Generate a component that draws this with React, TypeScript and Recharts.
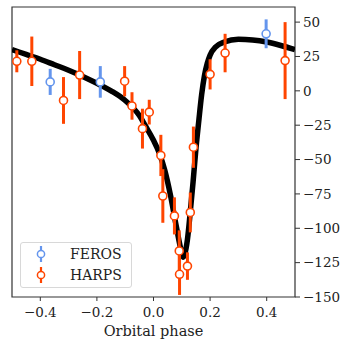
import { ComposedChart, Line, Scatter, ErrorBar, XAxis, YAxis, ReferenceArea } from "recharts";

// model RV curve (phase, km/s)
const modelPhase = [
  -0.5, -0.45, -0.4, -0.35, -0.3, -0.25, -0.2, -0.15, -0.1, -0.05, -0.03, 0.0, 0.02, 0.04, 0.06, 0.08,
  0.1, 0.105, 0.11, 0.12, 0.13, 0.14, 0.15, 0.16, 0.17, 0.18, 0.19, 0.2, 0.22, 0.25, 0.3, 0.35, 0.4,
  0.45, 0.5,
];
const modelRv = [
  30, 26.5, 23, 19, 15, 10.5, 5.5, 0, -7, -18, -25, -36, -45, -58, -76, -98, -118, -121, -119, -108,
  -88, -66, -42, -22, -3, 11, 20, 26, 32, 35.5, 37.5, 37, 35.5, 33, 30,
];

const ferosPhase = [-0.365, -0.188, 0.398];
const ferosRv = [6.5, 6.5, 41.5];
const ferosErr = [9.5, 11.5, 10.5];

const harpsPhase = [
  -0.483, -0.43, -0.318, -0.261, -0.102, -0.076, -0.039, -0.015, 0.026, 0.033, 0.074, 0.091, 0.092,
  0.12, 0.13, 0.141, 0.2, 0.253, 0.465,
];
const harpsRv = [
  21.5, 21.5, -7, 11.5, 7, -11, -27.5, -15.5, -47, -76.5, -91, -116.5, -133.5, -127.5, -88.5, -41, 12,
  27.5, 22,
];
const harpsErr = [8, 18, 17, 17.5, 11, 10, 14.5, 9, 15, 19.5, 13.5, 15, 15, 10, 14.5, 15, 11, 14, 28];

const xTicks = [-0.4, -0.2, 0.0, 0.2, 0.4];
const yTicks = [-150, -125, -100, -75, -50, -25, 0, 25, 50];

const model = modelPhase.map((phase, i) => ({ phase, v: modelRv[i] }));
const feros = ferosPhase.map((phase, i) => ({ phase, v: ferosRv[i], err: ferosErr[i] }));
const harps = harpsPhase.map((phase, i) => ({ phase, v: harpsRv[i], err: harpsErr[i] }));

const BLUE = "#6495ED";
const RED = "#FF4500";
const FONT = "DejaVu Serif, Liberation Serif, serif";

const minus = (s: string) => s.replace("-", "\u2212");

const dot = (color: string) => (props: any) =>
  <circle cx={props.cx} cy={props.cy} r={4} fill="#fff" stroke={color} strokeWidth={1.6} />;

const LegendMark = ({ color }: { color: string }) => (
  <svg width={12} height={18} style={{ display: "block" }}>
    <line x1={6} y1={1} x2={6} y2={17} stroke={color} strokeWidth={2.2} />
    <circle cx={6} cy={9} r={3.6} fill="#fff" stroke={color} strokeWidth={1.5} />
  </svg>
);

const App = () => {
  return (
    <div style={{ position: "absolute", left: 0, top: 0, width: 346, height: 341, background: "#fff", fontFamily: FONT }}>
      <ComposedChart width={346} height={341} margin={{ top: 7, right: 0, left: 12, bottom: 0 }} style={{ fontFamily: FONT }}>
        <XAxis
          dataKey="phase"
          type="number"
          domain={[-0.5, 0.5]}
          ticks={xTicks}
          allowDataOverflow
          tickFormatter={(v: number) => minus(v.toFixed(1))}
          tick={{ fontSize: 13.5, fill: "#222", fontFamily: FONT }}
          tickLine={{ stroke: "#333" }}
          axisLine={false}
          tickSize={4}
          tickMargin={6}
          height={44}
          label={{ value: "Orbital phase", position: "insideBottom", offset: 5, fontSize: 14.5, fill: "#222", fontFamily: FONT }}
        />
        <YAxis
          orientation="right"
          type="number"
          domain={[-150, 61]}
          ticks={yTicks}
          allowDataOverflow
          tickFormatter={(v: number) => minus(String(v))}
          tick={{ fontSize: 13.5, fill: "#222", fontFamily: FONT, textAnchor: "start" }}
          tickLine={{ stroke: "#333" }}
          axisLine={false}
          tickSize={5}
          tickMargin={3}
          width={51}
        />
        <ReferenceArea x1={-0.5} x2={0.5} y1={-150} y2={61} fill="none" stroke="#333" strokeWidth={1.2} />
        <Line
          data={model}
          dataKey="v"
          type="monotone"
          stroke="#000"
          strokeWidth={5.5}
          dot={false}
          isAnimationActive={false}
        />
        <Scatter data={feros} dataKey="v" shape={dot(BLUE)} isAnimationActive={false}>
          <ErrorBar dataKey="err" direction="y" width={0} stroke={BLUE} strokeWidth={3} />
        </Scatter>
        <Scatter data={harps} dataKey="v" shape={dot(RED)} isAnimationActive={false}>
          <ErrorBar dataKey="err" direction="y" width={0} stroke={RED} strokeWidth={3} />
        </Scatter>
      </ComposedChart>
      <div
        style={{
          position: "absolute",
          left: 20,
          top: 242,
          width: 110,
          height: 44,
          border: "1px solid #d8d8d8",
          borderRadius: 3,
          background: "rgba(255,255,255,0.8)",
          fontSize: 14,
          color: "#222",
        }}
      >
        {[
          { name: "FEROS", color: BLUE },
          { name: "HARPS", color: RED },
        ].map((e) => (
          <div key={e.name} style={{ display: "flex", alignItems: "center", height: 22, marginTop: e.name === "FEROS" ? 0 : -1 }}>
            <div style={{ width: 14, marginLeft: 14 }}>
              <LegendMark color={e.color} />
            </div>
            <span style={{ marginLeft: 21, lineHeight: "22px" }}>{e.name}</span>
          </div>
        ))}
      </div>
    </div>
  );
};

export default App;
